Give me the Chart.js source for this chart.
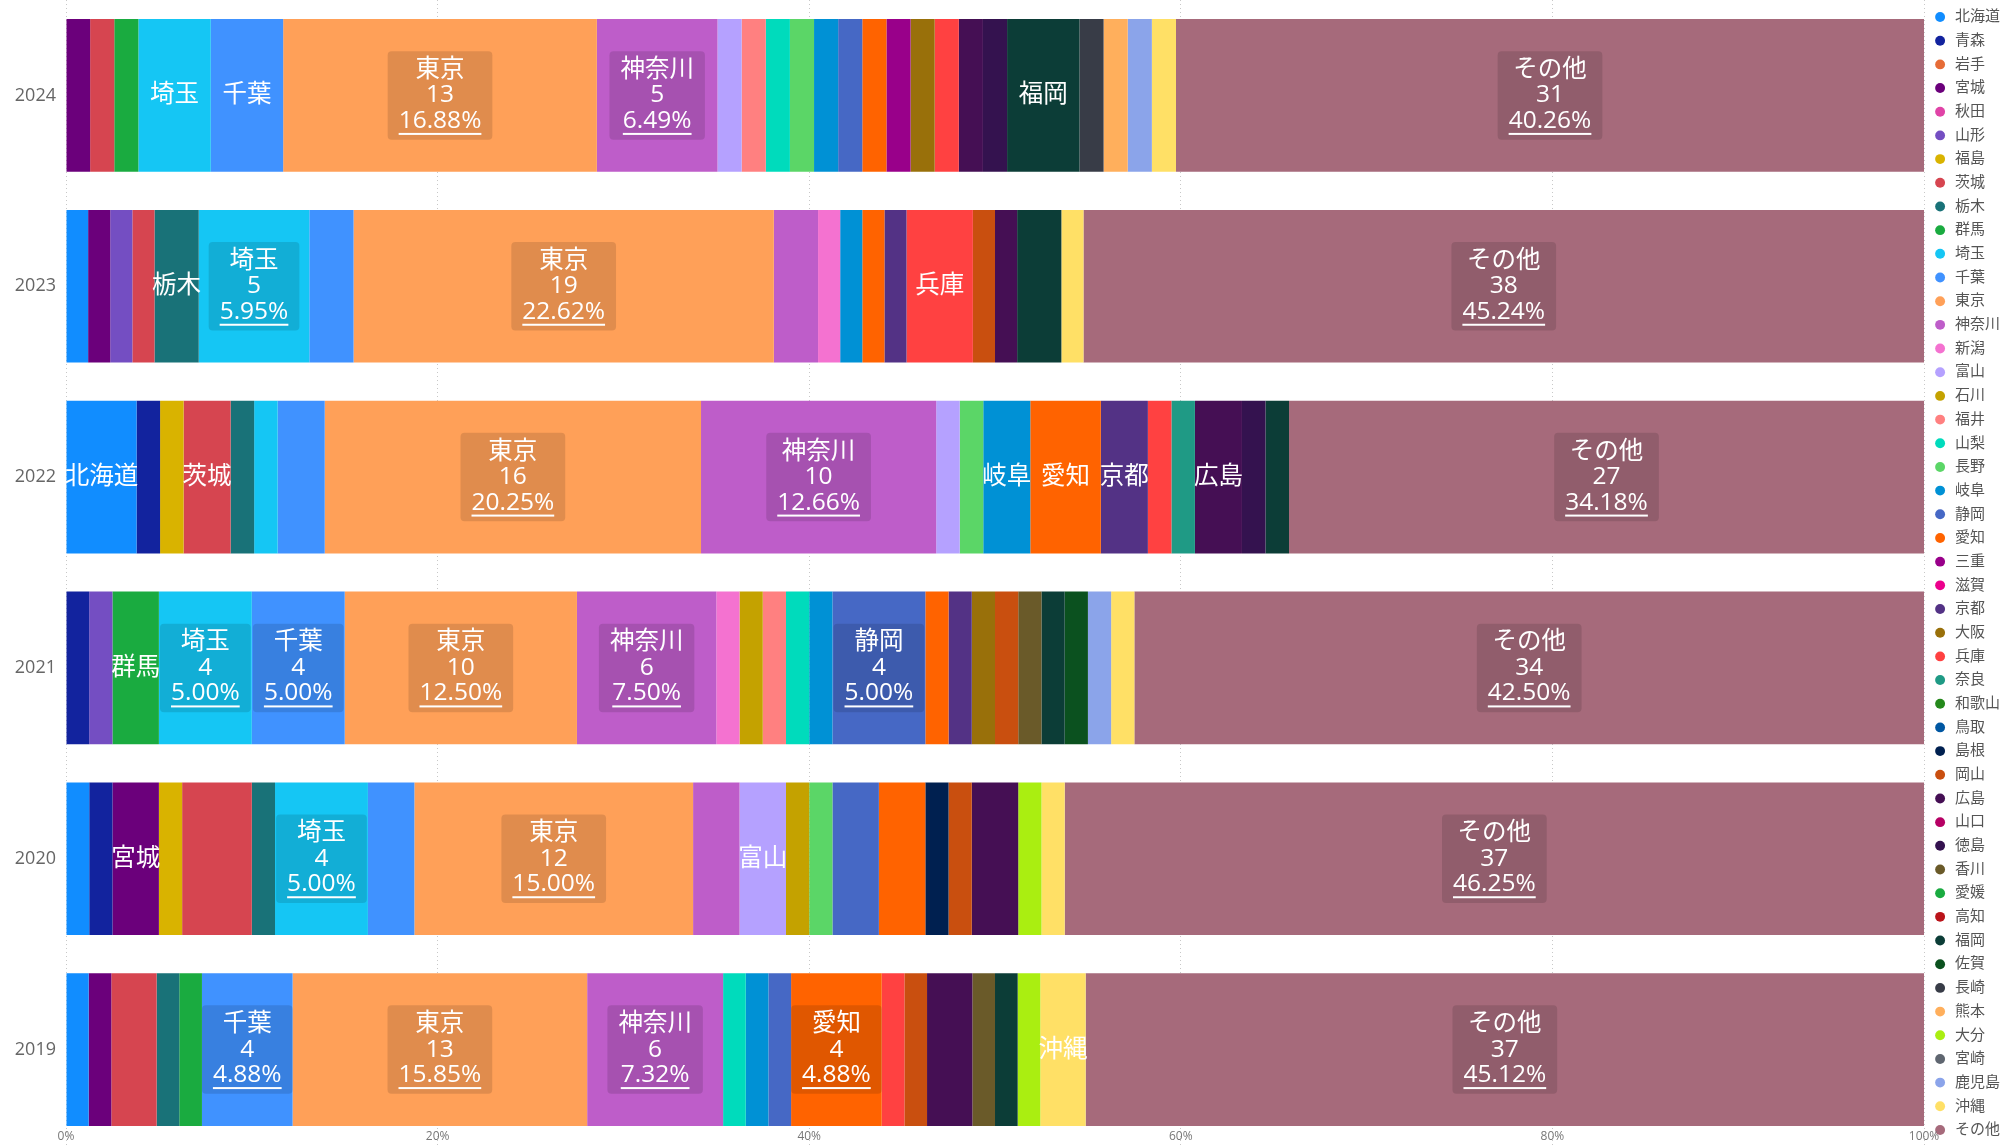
<!DOCTYPE html>
<html lang="ja">
<head>
<meta charset="utf-8">
<title>都道府県別 構成比</title>
<script src="https://cdn.jsdelivr.net/npm/chart.js@4.4.1/dist/chart.umd.min.js"></script>
<style>
  html, body { margin: 0; padding: 0; background: #fff; }
  #wrap { width: 2006px; height: 1147px; }
</style>
</head>
<body>
<div id="wrap"><canvas id="prefChart" width="2006" height="1147"></canvas></div>
<script>
const years = ['2024', '2023', '2022', '2021', '2020', '2019'];

const prefectures = [
  '北海道', '青森', '岩手', '宮城', '秋田', '山形', '福島', '茨城',
  '栃木', '群馬', '埼玉', '千葉', '東京', '神奈川', '新潟', '富山',
  '石川', '福井', '山梨', '長野', '岐阜', '静岡', '愛知', '三重',
  '滋賀', '京都', '大阪', '兵庫', '奈良', '和歌山', '鳥取', '島根',
  '岡山', '広島', '山口', '徳島', '香川', '愛媛', '高知', '福岡',
  '佐賀', '長崎', '熊本', '大分', '宮崎', '鹿児島', '沖縄', 'その他'
];

// counts per prefecture, same order as above
const counts2024 = [0,0,0,1,0,0,0,1, 0,1,3,3,13,5,0,1, 0,1,1,1,1,1,1,1, 0,0,1,1,0,0,0,0, 0,1,0,1,0,0,0,3, 0,1,1,0,0,1,1,31];
const counts2023 = [1,0,0,1,0,1,0,1, 2,0,5,2,19,2,1,0, 0,0,0,0,1,0,1,0, 0,1,0,3,0,0,0,0, 1,1,0,0,0,0,0,2, 0,0,0,0,0,0,1,38];
const counts2022 = [3,1,0,0,0,0,1,2, 1,0,1,2,16,10,0,1, 0,0,0,1,2,0,3,0, 0,2,0,1,1,0,0,0, 0,2,0,1,0,0,0,1, 0,0,0,0,0,0,0,27];
const counts2021 = [0,1,0,0,0,1,0,0, 0,2,4,4,10,6,1,0, 1,1,1,0,1,4,1,0, 0,1,1,0,0,0,0,0, 1,0,0,0,1,0,0,1, 1,0,0,0,0,1,1,34];
const counts2020 = [1,1,0,2,0,0,1,3, 1,0,4,2,12,2,0,2, 1,0,0,1,0,2,2,0, 0,0,0,0,0,0,0,1, 1,2,0,0,0,0,0,0, 0,0,0,1,0,0,1,37];
const counts2019 = [1,0,0,1,0,0,0,2, 1,1,0,4,13,6,0,0, 0,0,1,0,1,1,4,0, 0,0,0,1,0,0,0,0, 1,2,0,0,1,0,0,1, 0,0,0,1,0,0,2,37];

// segments that only show their name
const nameOnly2024 = ['埼玉', '千葉', '福岡'];
const nameOnly2023 = ['栃木', '兵庫'];
const nameOnly2022 = ['北海道', '茨城', '岐阜', '愛知', '京都', '広島'];
const nameOnly2021 = ['群馬'];
const nameOnly2020 = ['宮城', '富山'];
const nameOnly2019 = ['沖縄'];

const xTicks = [0, 20, 40, 60, 80, 100];

const palette = [
  '#118DFF', '#12239E', '#E66C37', '#6B007B', '#E044A7', '#744EC2', '#D9B300', '#D64550',
  '#197278', '#1AAB40', '#15C6F4', '#4092FF', '#FFA058', '#BE5DC9', '#F472D0', '#B5A1FF',
  '#C4A200', '#FF8080', '#00DBBC', '#5BD667', '#0091D5', '#4668C5', '#FF6300', '#99008A',
  '#EC008C', '#533285', '#99700A', '#FF4141', '#1F9A85', '#25891C', '#0057A2', '#002050',
  '#C94F0F', '#450F54', '#B60064', '#34124F', '#6A5A29', '#1AAB40', '#BA141A', '#0C3D37',
  '#0B511F', '#383C47', '#FFAF5C', '#AAEE11', '#5F6670', '#8BA4EA', '#FFE066', '#A66A7B'
];

const countsByYear = [counts2024, counts2023, counts2022, counts2021, counts2020, counts2019];
const nameOnly = [nameOnly2024, nameOnly2023, nameOnly2022, nameOnly2021, nameOnly2020, nameOnly2019];
const totals = countsByYear.map(c => c.reduce((a, b) => a + b, 0));

const FONT = "'Open Sans', 'Noto Sans CJK JP', sans-serif";
Chart.defaults.font.family = FONT;

const datasets = prefectures.map((name, i) => ({
  label: name,
  data: countsByYear.map((c, yi) => c[i] / totals[yi] * 100),
  backgroundColor: palette[i],
  borderWidth: 0,
  categoryPercentage: 0.8,
  barPercentage: 1
}));

// labels drawn on the bar segments
const segmentLabels = {
  id: 'segmentLabels',
  afterDatasetsDraw(chart) {
    const ctx = chart.ctx;
    const lh = 25.5;
    ctx.save();
    ctx.font = '24.5px ' + FONT;
    ctx.textAlign = 'center';
    ctx.textBaseline = 'middle';
    chart.data.datasets.forEach((ds, di) => {
      chart.getDatasetMeta(di).data.forEach((bar, yi) => {
        const n = countsByYear[yi][di];
        if (!n) return;
        const p = bar.getProps(['x', 'y', 'base'], true);
        const cx = (p.x + p.base) / 2;
        const cy = p.y;
        const pct = ds.data[yi];
        if (pct >= 4.8) {
          const lines = [ds.label, String(n), pct.toFixed(2) + '%'];
          const w = Math.max(...lines.map(t => ctx.measureText(t).width)) + 22;
          const h = lh * 3 + 12;
          ctx.fillStyle = 'rgba(0,0,0,0.12)';
          ctx.beginPath();
          ctx.roundRect(cx - w / 2, cy - h / 2, w, h, 4);
          ctx.fill();
          ctx.fillStyle = '#fff';
          lines.forEach((t, k) => ctx.fillText(t, cx, cy + (k - 1) * lh));
          const uw = ctx.measureText(lines[2]).width;
          ctx.fillRect(cx - uw / 2, cy + lh + 12, uw, 2);
        } else if (nameOnly[yi].includes(ds.label)) {
          ctx.fillStyle = '#fff';
          ctx.fillText(ds.label, cx, cy);
        }
      });
    });
    ctx.restore();
  }
};

const ctx = document.getElementById('prefChart').getContext('2d');
new Chart(ctx, {
  type: 'bar',
  data: { labels: years, datasets: datasets },
  options: {
    indexAxis: 'y',
    responsive: false,
    animation: false,
    layout: { padding: { left: 0, top: 0, bottom: 0, right: -4 } },
    scales: {
      x: {
        stacked: true,
        min: 0,
        max: 100,
        afterBuildTicks: s => { s.ticks = xTicks.map(v => ({ value: v })); },
        grid: { color: '#c8c8c8', drawTicks: false },
        border: { display: false, dash: [1, 3] },
        ticks: {
          mirror: true,
          padding: 1,
          color: '#777',
          font: { size: 12 },
          callback: v => v + '%'
        }
      },
      y: {
        stacked: true,
        afterFit: s => {
          s.width = 66;
          s.paddingTop = 0;
          s.paddingBottom = 0;
        },
        grid: { display: false, drawTicks: false },
        border: { display: false },
        ticks: { padding: 10, color: '#666', font: { size: 18 } }
      }
    },
    plugins: {
      tooltip: { enabled: false },
      legend: {
        position: 'right',
        labels: {
          usePointStyle: true,
          pointStyle: 'circle',
          boxWidth: 14.8,
          boxHeight: 7,
          padding: 8.68,
          color: '#555',
          font: { size: 15 }
        }
      }
    }
  },
  plugins: [segmentLabels]
});
</script>
</body>
</html>
